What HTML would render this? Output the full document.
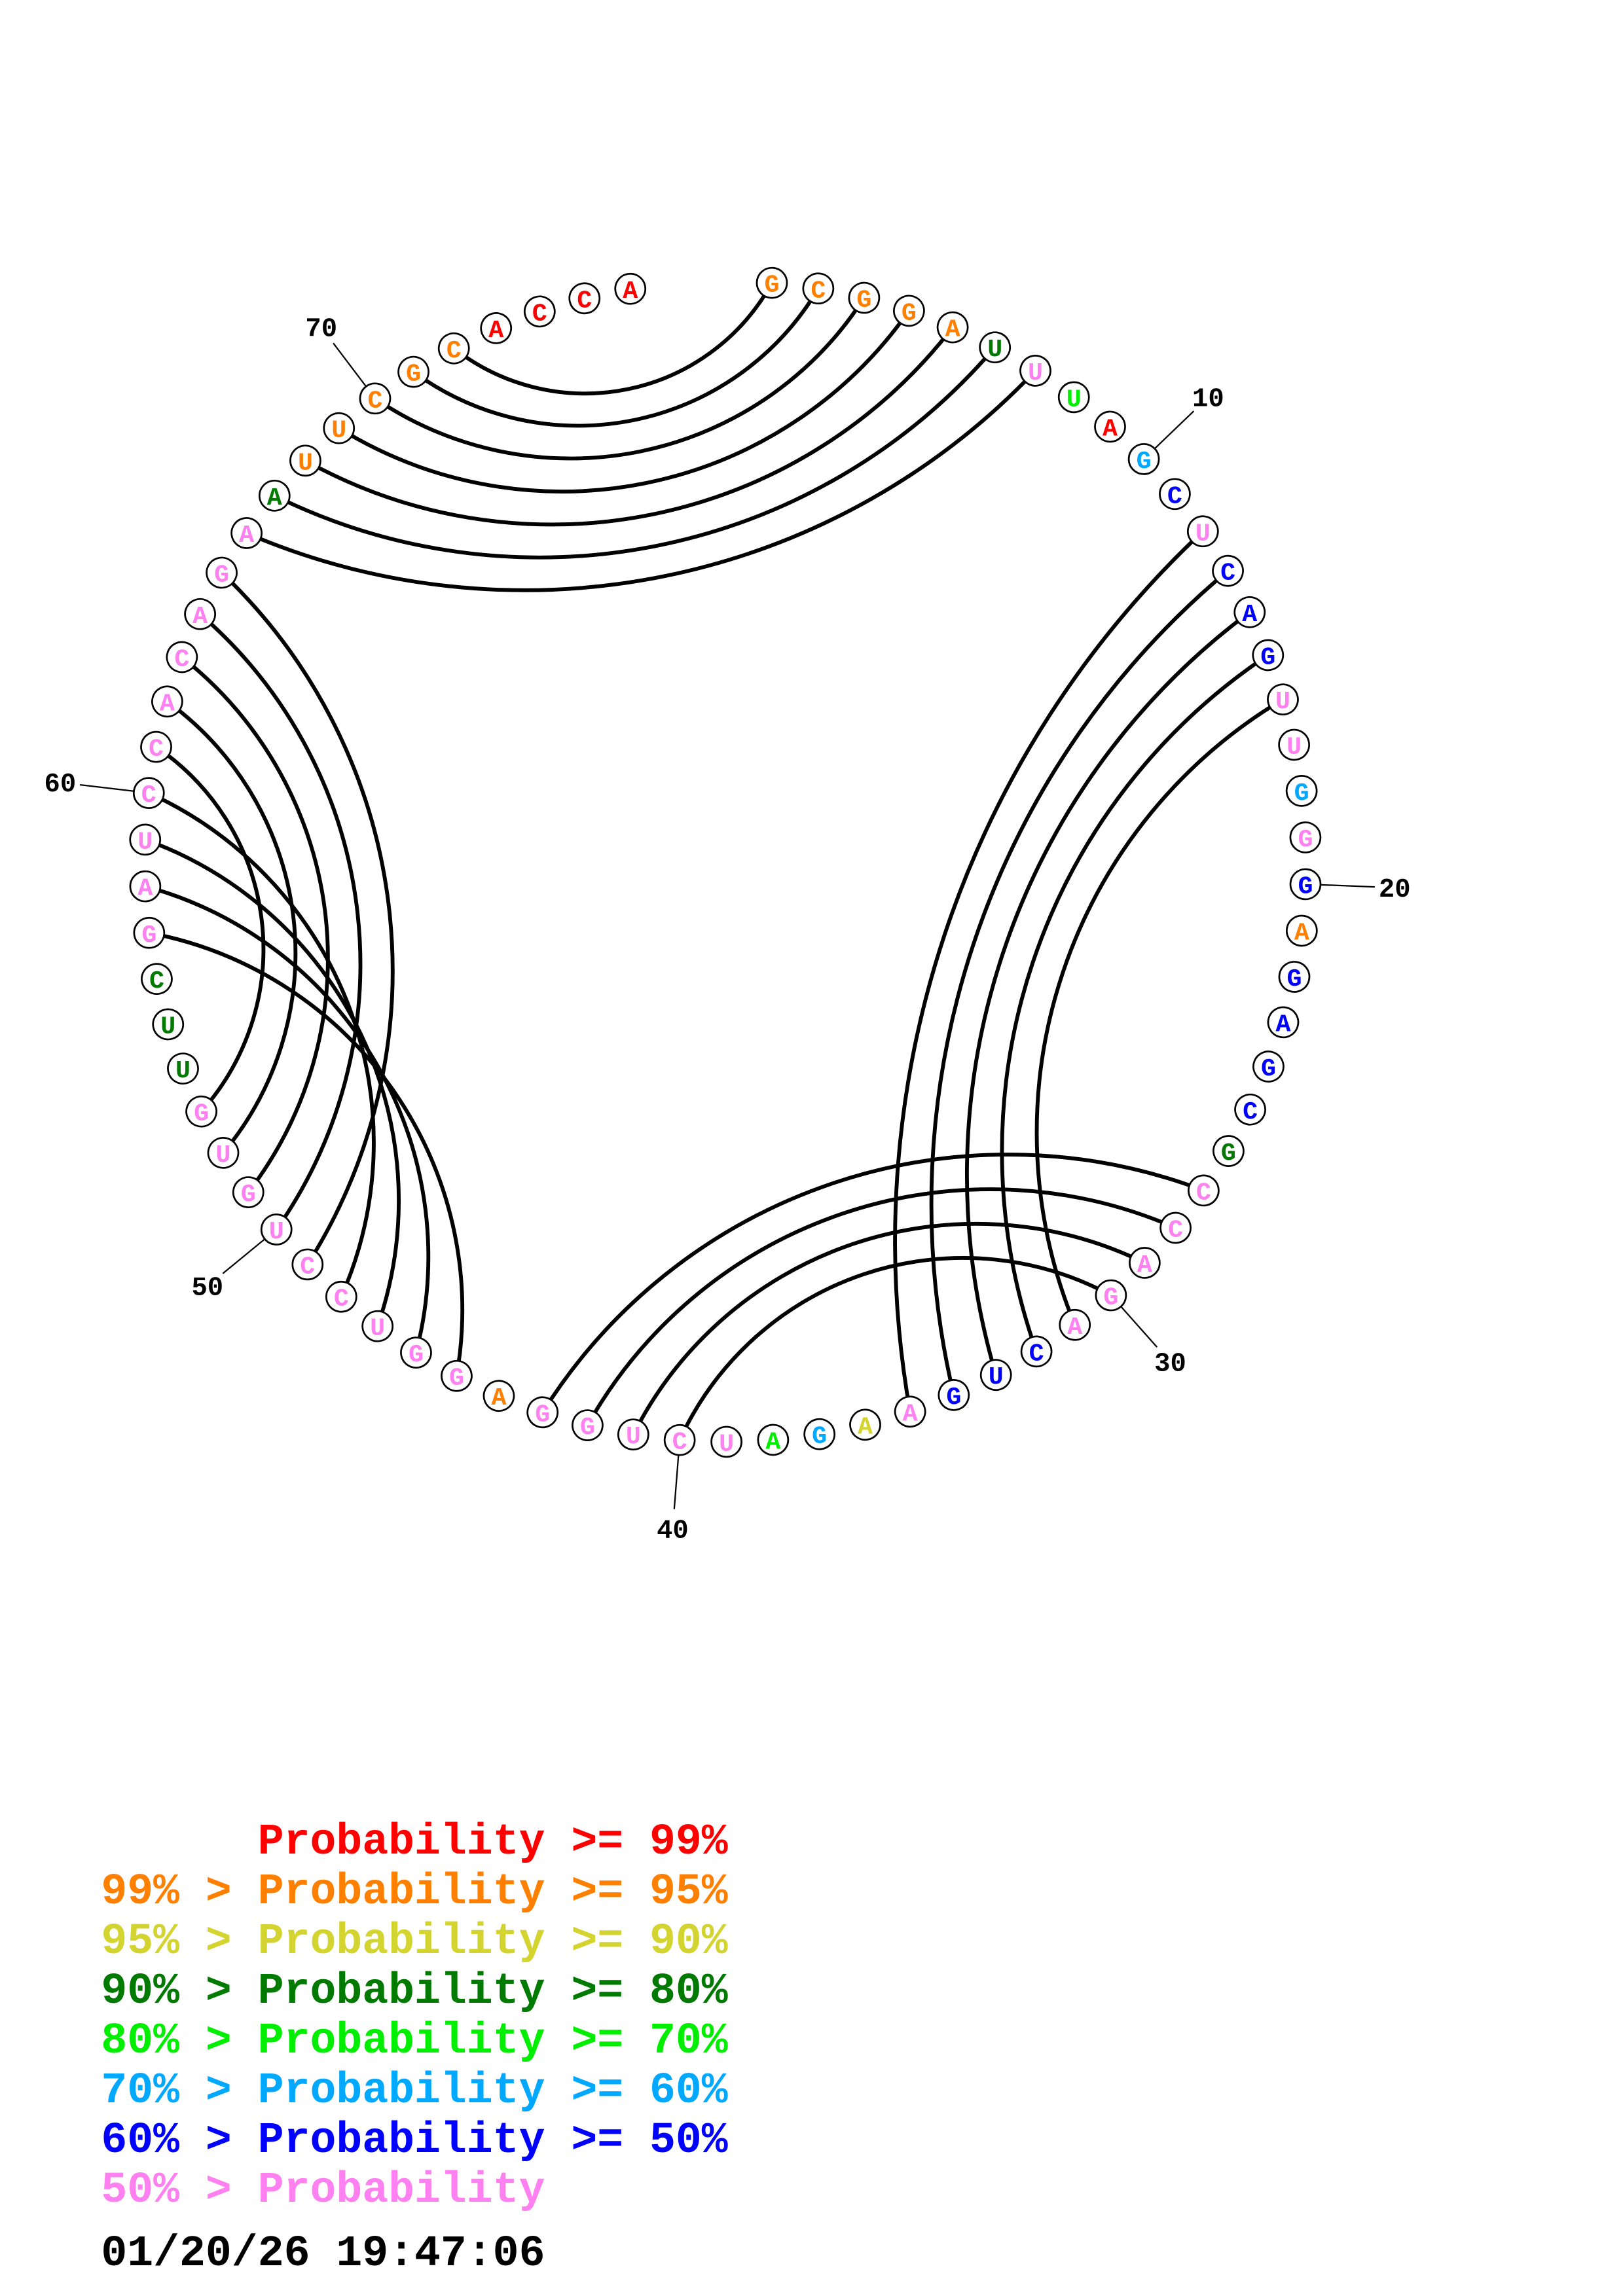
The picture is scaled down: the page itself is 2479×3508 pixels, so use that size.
<!DOCTYPE html>
<html><head><meta charset="utf-8"><style>
html,body{margin:0;padding:0;background:#fff;overflow:hidden;width:2479px;height:3508px}
svg{display:block;position:absolute;left:0;top:0}
.n circle{fill:#fff;stroke:#000;stroke-width:1.2}
.n text{font-family:"Liberation Mono",monospace;font-weight:bold;font-size:17px;text-anchor:middle}
.t text{font-family:"Liberation Mono",monospace;font-weight:bold;font-size:18px;text-anchor:middle;fill:#000}
.lg{font-family:"Liberation Mono",monospace;font-weight:bold;font-size:29.5px}
.O{fill:#ff8000}.R{fill:#ff0000}.Y{fill:#d4d430}.D{fill:#007a00}.L{fill:#00ee00}.S{fill:#00a8ff}.B{fill:#0000ff}.P{fill:#ff80f0}
</style></head><body>
<svg id="s" width="2479" height="3508" viewBox="0 0 1100 1556.6" xmlns="http://www.w3.org/2000/svg">
<g id="arcs" fill="none" stroke="#000" stroke-width="2.6"></g>
<g class="t" stroke="#000" stroke-width="1">
<g transform="rotate(46.12 491.6 584)"><line x1="491.6" y1="180.5" x2="491.6" y2="143.5"/><g transform="rotate(-46.12 491.6 130)"><text x="491.6" y="136" stroke="none">10</text></g></g>
<g transform="rotate(92.25 491.6 584)"><line x1="491.6" y1="180.5" x2="491.6" y2="143.5"/><g transform="rotate(-92.25 491.6 130)"><text x="491.6" y="136" stroke="none">20</text></g></g>
<g transform="rotate(138.38 491.6 584)"><line x1="491.6" y1="180.5" x2="491.6" y2="143.5"/><g transform="rotate(-138.38 491.6 130)"><text x="491.6" y="136" stroke="none">30</text></g></g>
<g transform="rotate(184.51 491.6 584)"><line x1="491.6" y1="180.5" x2="491.6" y2="143.5"/><g transform="rotate(-184.51 491.6 130)"><text x="491.6" y="136" stroke="none">40</text></g></g>
<g transform="rotate(230.64 491.6 584)"><line x1="491.6" y1="180.5" x2="491.6" y2="143.5"/><g transform="rotate(-230.64 491.6 130)"><text x="491.6" y="136" stroke="none">50</text></g></g>
<g transform="rotate(276.77 491.6 584)"><line x1="491.6" y1="180.5" x2="491.6" y2="143.5"/><g transform="rotate(-276.77 491.6 130)"><text x="491.6" y="136" stroke="none">60</text></g></g>
<g transform="rotate(322.9 491.6 584)"><line x1="491.6" y1="180.5" x2="491.6" y2="143.5"/><g transform="rotate(-322.9 491.6 130)"><text x="491.6" y="136" stroke="none">70</text></g></g>
</g>
<g class="n">
<g transform="rotate(4.6 491.6 584)"><circle cx="491.6" cy="190.5" r="10.2"/><text class="O" x="491.6" y="196.5" transform="rotate(-4.6 491.6 190.5)">G</text></g>
<g transform="rotate(9.21 491.6 584)"><circle cx="491.6" cy="190.5" r="10.2"/><text class="O" x="491.6" y="196.5" transform="rotate(-9.21 491.6 190.5)">C</text></g>
<g transform="rotate(13.83 491.6 584)"><circle cx="491.6" cy="190.5" r="10.2"/><text class="O" x="491.6" y="196.5" transform="rotate(-13.83 491.6 190.5)">G</text></g>
<g transform="rotate(18.44 491.6 584)"><circle cx="491.6" cy="190.5" r="10.2"/><text class="O" x="491.6" y="196.5" transform="rotate(-18.44 491.6 190.5)">G</text></g>
<g transform="rotate(23.05 491.6 584)"><circle cx="491.6" cy="190.5" r="10.2"/><text class="O" x="491.6" y="196.5" transform="rotate(-23.05 491.6 190.5)">A</text></g>
<g transform="rotate(27.67 491.6 584)"><circle cx="491.6" cy="190.5" r="10.2"/><text class="D" x="491.6" y="196.5" transform="rotate(-27.67 491.6 190.5)">U</text></g>
<g transform="rotate(32.28 491.6 584)"><circle cx="491.6" cy="190.5" r="10.2"/><text class="P" x="491.6" y="196.5" transform="rotate(-32.28 491.6 190.5)">U</text></g>
<g transform="rotate(36.89 491.6 584)"><circle cx="491.6" cy="190.5" r="10.2"/><text class="L" x="491.6" y="196.5" transform="rotate(-36.89 491.6 190.5)">U</text></g>
<g transform="rotate(41.5 491.6 584)"><circle cx="491.6" cy="190.5" r="10.2"/><text class="R" x="491.6" y="196.5" transform="rotate(-41.5 491.6 190.5)">A</text></g>
<g transform="rotate(46.12 491.6 584)"><circle cx="491.6" cy="190.5" r="10.2"/><text class="S" x="491.6" y="196.5" transform="rotate(-46.12 491.6 190.5)">G</text></g>
<g transform="rotate(50.73 491.6 584)"><circle cx="491.6" cy="190.5" r="10.2"/><text class="B" x="491.6" y="196.5" transform="rotate(-50.73 491.6 190.5)">C</text></g>
<g transform="rotate(55.34 491.6 584)"><circle cx="491.6" cy="190.5" r="10.2"/><text class="P" x="491.6" y="196.5" transform="rotate(-55.34 491.6 190.5)">U</text></g>
<g transform="rotate(59.96 491.6 584)"><circle cx="491.6" cy="190.5" r="10.2"/><text class="B" x="491.6" y="196.5" transform="rotate(-59.96 491.6 190.5)">C</text></g>
<g transform="rotate(64.57 491.6 584)"><circle cx="491.6" cy="190.5" r="10.2"/><text class="B" x="491.6" y="196.5" transform="rotate(-64.57 491.6 190.5)">A</text></g>
<g transform="rotate(69.18 491.6 584)"><circle cx="491.6" cy="190.5" r="10.2"/><text class="B" x="491.6" y="196.5" transform="rotate(-69.18 491.6 190.5)">G</text></g>
<g transform="rotate(73.8 491.6 584)"><circle cx="491.6" cy="190.5" r="10.2"/><text class="P" x="491.6" y="196.5" transform="rotate(-73.8 491.6 190.5)">U</text></g>
<g transform="rotate(78.41 491.6 584)"><circle cx="491.6" cy="190.5" r="10.2"/><text class="P" x="491.6" y="196.5" transform="rotate(-78.41 491.6 190.5)">U</text></g>
<g transform="rotate(83.02 491.6 584)"><circle cx="491.6" cy="190.5" r="10.2"/><text class="S" x="491.6" y="196.5" transform="rotate(-83.02 491.6 190.5)">G</text></g>
<g transform="rotate(87.63 491.6 584)"><circle cx="491.6" cy="190.5" r="10.2"/><text class="P" x="491.6" y="196.5" transform="rotate(-87.63 491.6 190.5)">G</text></g>
<g transform="rotate(92.25 491.6 584)"><circle cx="491.6" cy="190.5" r="10.2"/><text class="B" x="491.6" y="196.5" transform="rotate(-92.25 491.6 190.5)">G</text></g>
<g transform="rotate(96.86 491.6 584)"><circle cx="491.6" cy="190.5" r="10.2"/><text class="O" x="491.6" y="196.5" transform="rotate(-96.86 491.6 190.5)">A</text></g>
<g transform="rotate(101.47 491.6 584)"><circle cx="491.6" cy="190.5" r="10.2"/><text class="B" x="491.6" y="196.5" transform="rotate(-101.47 491.6 190.5)">G</text></g>
<g transform="rotate(106.09 491.6 584)"><circle cx="491.6" cy="190.5" r="10.2"/><text class="B" x="491.6" y="196.5" transform="rotate(-106.09 491.6 190.5)">A</text></g>
<g transform="rotate(110.7 491.6 584)"><circle cx="491.6" cy="190.5" r="10.2"/><text class="B" x="491.6" y="196.5" transform="rotate(-110.7 491.6 190.5)">G</text></g>
<g transform="rotate(115.31 491.6 584)"><circle cx="491.6" cy="190.5" r="10.2"/><text class="B" x="491.6" y="196.5" transform="rotate(-115.31 491.6 190.5)">C</text></g>
<g transform="rotate(119.93 491.6 584)"><circle cx="491.6" cy="190.5" r="10.2"/><text class="D" x="491.6" y="196.5" transform="rotate(-119.93 491.6 190.5)">G</text></g>
<g transform="rotate(124.54 491.6 584)"><circle cx="491.6" cy="190.5" r="10.2"/><text class="P" x="491.6" y="196.5" transform="rotate(-124.54 491.6 190.5)">C</text></g>
<g transform="rotate(129.15 491.6 584)"><circle cx="491.6" cy="190.5" r="10.2"/><text class="P" x="491.6" y="196.5" transform="rotate(-129.15 491.6 190.5)">C</text></g>
<g transform="rotate(133.76 491.6 584)"><circle cx="491.6" cy="190.5" r="10.2"/><text class="P" x="491.6" y="196.5" transform="rotate(-133.76 491.6 190.5)">A</text></g>
<g transform="rotate(138.38 491.6 584)"><circle cx="491.6" cy="190.5" r="10.2"/><text class="P" x="491.6" y="196.5" transform="rotate(-138.38 491.6 190.5)">G</text></g>
<g transform="rotate(142.99 491.6 584)"><circle cx="491.6" cy="190.5" r="10.2"/><text class="P" x="491.6" y="196.5" transform="rotate(-142.99 491.6 190.5)">A</text></g>
<g transform="rotate(147.6 491.6 584)"><circle cx="491.6" cy="190.5" r="10.2"/><text class="B" x="491.6" y="196.5" transform="rotate(-147.6 491.6 190.5)">C</text></g>
<g transform="rotate(152.22 491.6 584)"><circle cx="491.6" cy="190.5" r="10.2"/><text class="B" x="491.6" y="196.5" transform="rotate(-152.22 491.6 190.5)">U</text></g>
<g transform="rotate(156.83 491.6 584)"><circle cx="491.6" cy="190.5" r="10.2"/><text class="B" x="491.6" y="196.5" transform="rotate(-156.83 491.6 190.5)">G</text></g>
<g transform="rotate(161.44 491.6 584)"><circle cx="491.6" cy="190.5" r="10.2"/><text class="P" x="491.6" y="196.5" transform="rotate(-161.44 491.6 190.5)">A</text></g>
<g transform="rotate(166.06 491.6 584)"><circle cx="491.6" cy="190.5" r="10.2"/><text class="Y" x="491.6" y="196.5" transform="rotate(-166.06 491.6 190.5)">A</text></g>
<g transform="rotate(170.67 491.6 584)"><circle cx="491.6" cy="190.5" r="10.2"/><text class="S" x="491.6" y="196.5" transform="rotate(-170.67 491.6 190.5)">G</text></g>
<g transform="rotate(175.28 491.6 584)"><circle cx="491.6" cy="190.5" r="10.2"/><text class="L" x="491.6" y="196.5" transform="rotate(-175.28 491.6 190.5)">A</text></g>
<g transform="rotate(179.89 491.6 584)"><circle cx="491.6" cy="190.5" r="10.2"/><text class="P" x="491.6" y="196.5" transform="rotate(-179.89 491.6 190.5)">U</text></g>
<g transform="rotate(184.51 491.6 584)"><circle cx="491.6" cy="190.5" r="10.2"/><text class="P" x="491.6" y="196.5" transform="rotate(-184.51 491.6 190.5)">C</text></g>
<g transform="rotate(189.12 491.6 584)"><circle cx="491.6" cy="190.5" r="10.2"/><text class="P" x="491.6" y="196.5" transform="rotate(-189.12 491.6 190.5)">U</text></g>
<g transform="rotate(193.73 491.6 584)"><circle cx="491.6" cy="190.5" r="10.2"/><text class="P" x="491.6" y="196.5" transform="rotate(-193.73 491.6 190.5)">G</text></g>
<g transform="rotate(198.35 491.6 584)"><circle cx="491.6" cy="190.5" r="10.2"/><text class="P" x="491.6" y="196.5" transform="rotate(-198.35 491.6 190.5)">G</text></g>
<g transform="rotate(202.96 491.6 584)"><circle cx="491.6" cy="190.5" r="10.2"/><text class="O" x="491.6" y="196.5" transform="rotate(-202.96 491.6 190.5)">A</text></g>
<g transform="rotate(207.57 491.6 584)"><circle cx="491.6" cy="190.5" r="10.2"/><text class="P" x="491.6" y="196.5" transform="rotate(-207.57 491.6 190.5)">G</text></g>
<g transform="rotate(212.19 491.6 584)"><circle cx="491.6" cy="190.5" r="10.2"/><text class="P" x="491.6" y="196.5" transform="rotate(-212.19 491.6 190.5)">G</text></g>
<g transform="rotate(216.8 491.6 584)"><circle cx="491.6" cy="190.5" r="10.2"/><text class="P" x="491.6" y="196.5" transform="rotate(-216.8 491.6 190.5)">U</text></g>
<g transform="rotate(221.41 491.6 584)"><circle cx="491.6" cy="190.5" r="10.2"/><text class="P" x="491.6" y="196.5" transform="rotate(-221.41 491.6 190.5)">C</text></g>
<g transform="rotate(226.02 491.6 584)"><circle cx="491.6" cy="190.5" r="10.2"/><text class="P" x="491.6" y="196.5" transform="rotate(-226.02 491.6 190.5)">C</text></g>
<g transform="rotate(230.64 491.6 584)"><circle cx="491.6" cy="190.5" r="10.2"/><text class="P" x="491.6" y="196.5" transform="rotate(-230.64 491.6 190.5)">U</text></g>
<g transform="rotate(235.25 491.6 584)"><circle cx="491.6" cy="190.5" r="10.2"/><text class="P" x="491.6" y="196.5" transform="rotate(-235.25 491.6 190.5)">G</text></g>
<g transform="rotate(239.86 491.6 584)"><circle cx="491.6" cy="190.5" r="10.2"/><text class="P" x="491.6" y="196.5" transform="rotate(-239.86 491.6 190.5)">U</text></g>
<g transform="rotate(244.48 491.6 584)"><circle cx="491.6" cy="190.5" r="10.2"/><text class="P" x="491.6" y="196.5" transform="rotate(-244.48 491.6 190.5)">G</text></g>
<g transform="rotate(249.09 491.6 584)"><circle cx="491.6" cy="190.5" r="10.2"/><text class="D" x="491.6" y="196.5" transform="rotate(-249.09 491.6 190.5)">U</text></g>
<g transform="rotate(253.7 491.6 584)"><circle cx="491.6" cy="190.5" r="10.2"/><text class="D" x="491.6" y="196.5" transform="rotate(-253.7 491.6 190.5)">U</text></g>
<g transform="rotate(258.32 491.6 584)"><circle cx="491.6" cy="190.5" r="10.2"/><text class="D" x="491.6" y="196.5" transform="rotate(-258.32 491.6 190.5)">C</text></g>
<g transform="rotate(262.93 491.6 584)"><circle cx="491.6" cy="190.5" r="10.2"/><text class="P" x="491.6" y="196.5" transform="rotate(-262.93 491.6 190.5)">G</text></g>
<g transform="rotate(267.54 491.6 584)"><circle cx="491.6" cy="190.5" r="10.2"/><text class="P" x="491.6" y="196.5" transform="rotate(-267.54 491.6 190.5)">A</text></g>
<g transform="rotate(272.15 491.6 584)"><circle cx="491.6" cy="190.5" r="10.2"/><text class="P" x="491.6" y="196.5" transform="rotate(-272.15 491.6 190.5)">U</text></g>
<g transform="rotate(276.77 491.6 584)"><circle cx="491.6" cy="190.5" r="10.2"/><text class="P" x="491.6" y="196.5" transform="rotate(-276.77 491.6 190.5)">C</text></g>
<g transform="rotate(281.38 491.6 584)"><circle cx="491.6" cy="190.5" r="10.2"/><text class="P" x="491.6" y="196.5" transform="rotate(-281.38 491.6 190.5)">C</text></g>
<g transform="rotate(285.99 491.6 584)"><circle cx="491.6" cy="190.5" r="10.2"/><text class="P" x="491.6" y="196.5" transform="rotate(-285.99 491.6 190.5)">A</text></g>
<g transform="rotate(290.61 491.6 584)"><circle cx="491.6" cy="190.5" r="10.2"/><text class="P" x="491.6" y="196.5" transform="rotate(-290.61 491.6 190.5)">C</text></g>
<g transform="rotate(295.22 491.6 584)"><circle cx="491.6" cy="190.5" r="10.2"/><text class="P" x="491.6" y="196.5" transform="rotate(-295.22 491.6 190.5)">A</text></g>
<g transform="rotate(299.83 491.6 584)"><circle cx="491.6" cy="190.5" r="10.2"/><text class="P" x="491.6" y="196.5" transform="rotate(-299.83 491.6 190.5)">G</text></g>
<g transform="rotate(304.45 491.6 584)"><circle cx="491.6" cy="190.5" r="10.2"/><text class="P" x="491.6" y="196.5" transform="rotate(-304.45 491.6 190.5)">A</text></g>
<g transform="rotate(309.06 491.6 584)"><circle cx="491.6" cy="190.5" r="10.2"/><text class="D" x="491.6" y="196.5" transform="rotate(-309.06 491.6 190.5)">A</text></g>
<g transform="rotate(313.67 491.6 584)"><circle cx="491.6" cy="190.5" r="10.2"/><text class="O" x="491.6" y="196.5" transform="rotate(-313.67 491.6 190.5)">U</text></g>
<g transform="rotate(318.28 491.6 584)"><circle cx="491.6" cy="190.5" r="10.2"/><text class="O" x="491.6" y="196.5" transform="rotate(-318.28 491.6 190.5)">U</text></g>
<g transform="rotate(322.9 491.6 584)"><circle cx="491.6" cy="190.5" r="10.2"/><text class="O" x="491.6" y="196.5" transform="rotate(-322.9 491.6 190.5)">C</text></g>
<g transform="rotate(327.51 491.6 584)"><circle cx="491.6" cy="190.5" r="10.2"/><text class="O" x="491.6" y="196.5" transform="rotate(-327.51 491.6 190.5)">G</text></g>
<g transform="rotate(332.12 491.6 584)"><circle cx="491.6" cy="190.5" r="10.2"/><text class="O" x="491.6" y="196.5" transform="rotate(-332.12 491.6 190.5)">C</text></g>
<g transform="rotate(336.74 491.6 584)"><circle cx="491.6" cy="190.5" r="10.2"/><text class="R" x="491.6" y="196.5" transform="rotate(-336.74 491.6 190.5)">A</text></g>
<g transform="rotate(341.35 491.6 584)"><circle cx="491.6" cy="190.5" r="10.2"/><text class="R" x="491.6" y="196.5" transform="rotate(-341.35 491.6 190.5)">C</text></g>
<g transform="rotate(345.96 491.6 584)"><circle cx="491.6" cy="190.5" r="10.2"/><text class="R" x="491.6" y="196.5" transform="rotate(-345.96 491.6 190.5)">C</text></g>
<g transform="rotate(350.58 491.6 584)"><circle cx="491.6" cy="190.5" r="10.2"/><text class="R" x="491.6" y="196.5" transform="rotate(-350.58 491.6 190.5)">A</text></g>
</g>
<g class="lg">
<text class="R" x="174.7" y="1256.7">Probability &gt;= 99%</text>
<text class="O" x="68.5" y="1290.4">99% &gt; Probability &gt;= 95%</text>
<text class="Y" x="68.5" y="1324.1">95% &gt; Probability &gt;= 90%</text>
<text class="D" x="68.5" y="1357.8">90% &gt; Probability &gt;= 80%</text>
<text class="L" x="68.5" y="1391.5">80% &gt; Probability &gt;= 70%</text>
<text class="S" x="68.5" y="1425.2">70% &gt; Probability &gt;= 60%</text>
<text class="B" x="68.5" y="1458.9">60% &gt; Probability &gt;= 50%</text>
<text class="P" x="68.5" y="1492.6">50% &gt; Probability</text>
<text fill="#000" x="68.5" y="1535.7">01/20/26 19:47:06</text>
</g>
</svg>
<script>
(function(){
var cx=491.6,cy=584,R=393.5,ns="http://www.w3.org/2000/svg";
function ang(i){return (4.6+(i-1)*4.613)*Math.PI/180;}
function pt(i){var a=ang(i);return [cx+R*Math.sin(a),cy-R*Math.cos(a)];}
var pairs=[[1,72],[2,71],[3,70],[4,69],[5,68],[6,67],[7,66],[12,35],[13,34],[14,33],[15,32],[16,31],[27,43],[28,42],[29,41],[30,40],[61,53],[62,52],[63,51],[64,50],[65,49],[60,48],[59,47],[58,46],[57,45]];
var g=document.getElementById("arcs");
pairs.forEach(function(p){
 var a=pt(p[0]),b=pt(p[1]);
 var d=Math.abs(p[0]-p[1])*4.613; if(d>180)d=360-d;
 var h=d/2*Math.PI/180;
 var r=1.26*R*Math.tan(h);
 var dx=b[0]-a[0],dy=b[1]-a[1];
 var mx=(a[0]+b[0])/2-cx,my=(a[1]+b[1])/2-cy;
 var sw=((-dy)*mx+dx*my)>0?1:0;
 var e=document.createElementNS(ns,"path");
 e.setAttribute("d","M"+a[0].toFixed(2)+" "+a[1].toFixed(2)+" A"+r.toFixed(2)+" "+r.toFixed(2)+" 0 0 "+sw+" "+b[0].toFixed(2)+" "+b[1].toFixed(2));
 g.appendChild(e);
});
})();
</script>
</body></html>
